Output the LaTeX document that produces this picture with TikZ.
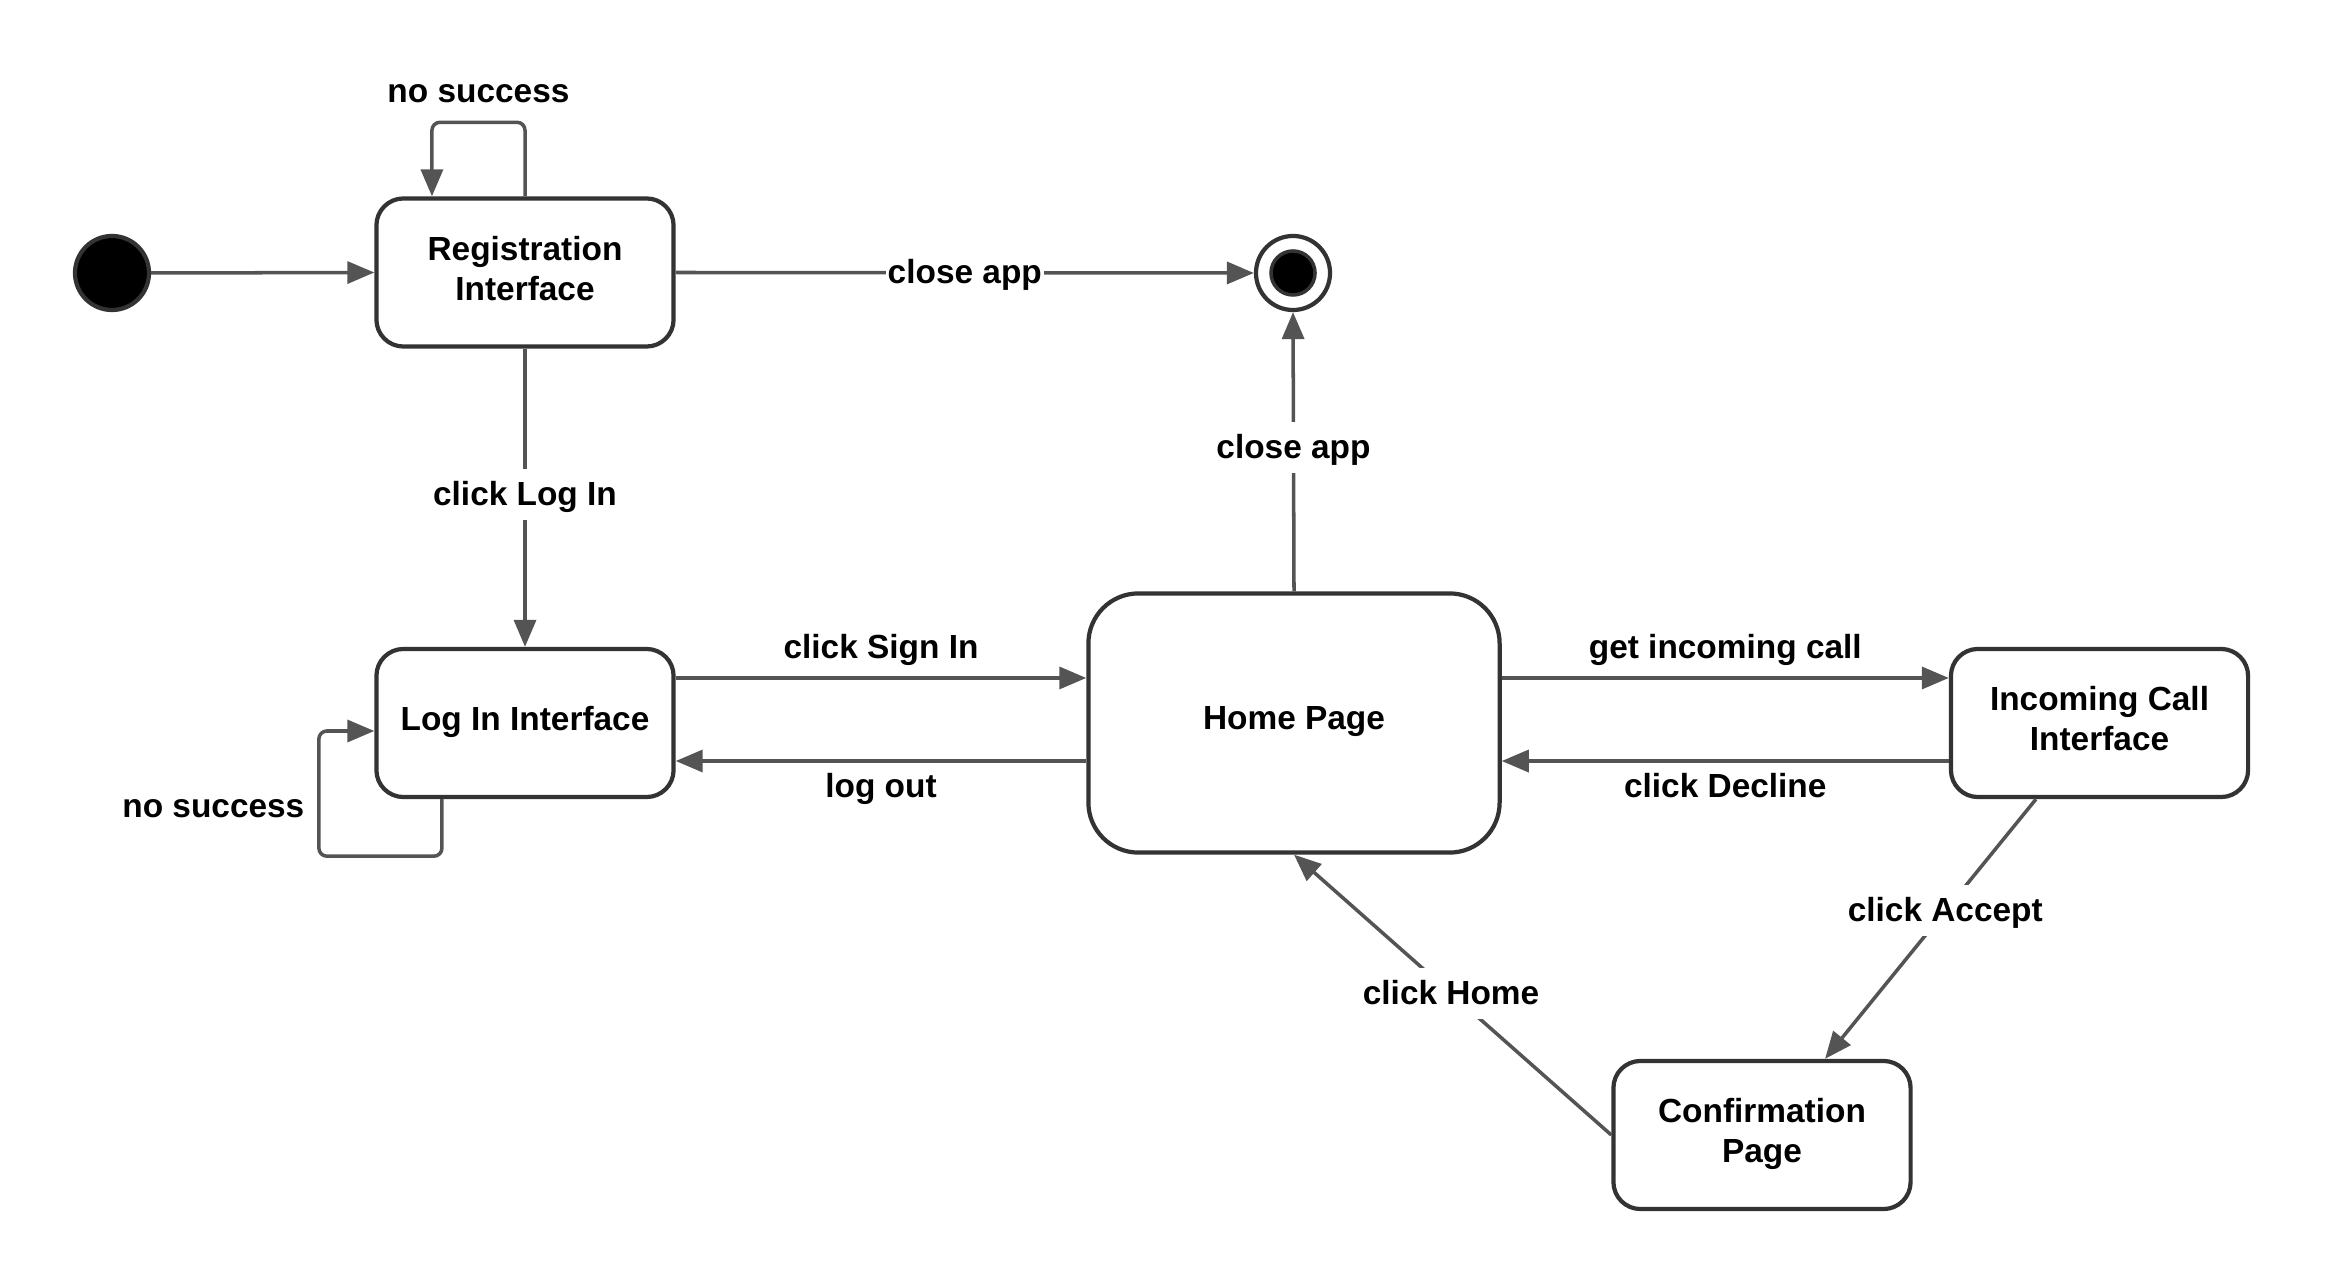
\documentclass[tikz,border=0pt]{standalone}
\usepackage{fontspec}
\setmainfont{Liberation Sans}
\usetikzlibrary{arrows.meta,calc}
\definecolor{EdgeClr}{rgb}{0.33,0.33,0.33}
\definecolor{BoxClr}{rgb}{0.2,0.2,0.2}

\begin{document}
\begin{tikzpicture}[x=0.01cm,y=-0.01cm,
  font=\fontsize{9.5}{11.4}\selectfont\bfseries,
  state/.style={draw=BoxClr,line width=1.2pt,rounded corners=0.27cm,align=center,
    minimum width=2.97cm,minimum height=1.48cm,inner sep=0pt,text depth=0.09cm},
  trans/.style={draw=EdgeClr,line width=1pt,-{Triangle[length=0.27cm,width=0.22cm]}},
  lbl/.style={fill=white,inner xsep=0.5pt,inner ysep=2pt,text height=1.6ex,text depth=0.4ex}]
\useasboundingbox (0,0) rectangle (2325,1286);

\node[circle,fill=black,draw=BoxClr,line width=1.2pt,minimum size=0.74cm,inner sep=0pt] (init) at (112,273) {};
\node[circle,fill=white,draw=BoxClr,line width=1.2pt,minimum size=0.74cm,inner sep=0pt] (final) at (1293,273) {};
\node[circle,fill=black,draw=BoxClr,line width=1pt,minimum size=0.44cm,inner sep=0pt] (finaldot) at (final) {};

\node[state] (reg) at (525,272.5) {Registration\\Interface};
\node[state] (login) at (525,723) {Log In Interface};
\node[state,minimum width=4.11cm,minimum height=2.59cm,rounded corners=0.5cm] (home) at (1294,723) {Home Page};
\node[state] (call) at (2099.5,723) {Incoming Call\\Interface};
\node[state] (conf) at (1762,1135) {Confirmation\\Page};

\draw[trans] (init.east) -- (reg.west);
\draw[trans] (reg.east) -- node[lbl]{close app} (final.west);
\draw[trans] (reg.south) -- node[lbl,pos=0.49]{click Log In} (login.north);
\draw[trans] (home.north) -- node[lbl,pos=0.515]{close app} (final.south);

\draw[trans,rounded corners=0.08cm] (reg.north) -- ++(0,0.74cm)
  -| node[pos=0.25,lbl,fill=none,yshift=0.31cm]{no success} ([xshift=-0.93cm]reg.north);
\draw[trans,rounded corners=0.08cm] ([xshift=-0.83cm]login.south) -- ++(0,-0.57cm) -- ++(-1.23cm,0)
  |- node[pos=0.2,lbl,fill=none,left=0.11cm]{no success} ([yshift=-0.08cm]login.west);

\draw[trans] ([yshift=0.45cm]login.east) -- node[lbl,fill=none,yshift=0.31cm]{click Sign In} ([yshift=0.45cm]login.east -| home.west);
\draw[trans] ([yshift=-0.38cm]home.west) -- node[lbl,fill=none,yshift=-0.25cm]{log out} ([yshift=-0.38cm]home.west -| login.east);
\draw[trans] ([yshift=0.45cm]home.east) -- node[lbl,fill=none,yshift=0.31cm]{get incoming call} ([yshift=0.45cm]home.east -| call.west);
\draw[trans] ([yshift=-0.38cm]call.west) -- node[lbl,fill=none,yshift=-0.25cm]{click Decline} ([yshift=-0.38cm]call.west -| home.east);

\draw[trans] ([xshift=-0.635cm]call.south) -- node[lbl,pos=0.43]{click Accept} ([xshift=0.63cm]conf.north);
\draw[trans] (conf.west) -- node[lbl,pos=0.505]{click Home} (home.south);
\end{tikzpicture}
\end{document}
